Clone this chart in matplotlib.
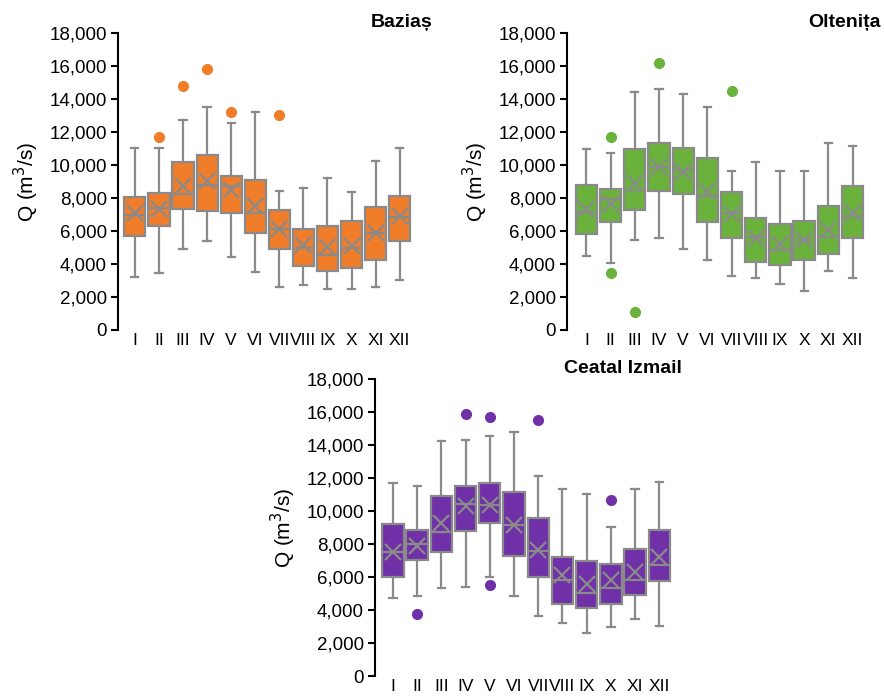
import matplotlib.pyplot as plt

months = ['I', 'II', 'III', 'IV', 'V', 'VI', 'VII', 'VIII', 'IX', 'X', 'XI', 'XII']

# Baziaș: lower whisker, Q1, median, Q3, upper whisker, mean, outliers
baz_low = [3230, 3430, 4900, 5400, 4400, 3500, 2600, 2700, 2460, 2500, 2580, 3030]
baz_q1 = [5700, 6300, 7300, 7230, 7100, 5900, 4900, 3880, 3580, 3780, 4240, 5410]
baz_med = [6970, 7370, 8220, 8800, 8700, 7070, 6100, 4950, 4550, 4950, 5860, 6870]
baz_q3 = [8040, 8280, 10160, 10600, 9350, 9070, 7270, 6140, 6320, 6630, 7470, 8140]
baz_high = [11000, 11000, 12700, 13500, 12570, 13200, 8420, 8600, 9230, 8380, 10260, 11000]
baz_mean = [7070, 7300, 8700, 9000, 8500, 7500, 6100, 5150, 5000, 5100, 5900, 6900]
baz_out = [[], [11700], [14770], [15800], [13200], [], [13000], [], [], [], [], []]

# Oltenița
olt_low = [4490, 4050, 5430, 5570, 4900, 4250, 3280, 3120, 2790, 2370, 3580, 3120]
olt_q1 = [5790, 6560, 7250, 8400, 8260, 6560, 5590, 4110, 3910, 4250, 4600, 5590]
olt_med = [7160, 7930, 8500, 9880, 9720, 8100, 7090, 5630, 4860, 5430, 5630, 6880]
olt_q3 = [8770, 8560, 10950, 11300, 11000, 10390, 8360, 6780, 6440, 6620, 7490, 8700]
olt_high = [10970, 10730, 14430, 14600, 14300, 13500, 9640, 10180, 9620, 9620, 11300, 11130]
olt_mean = [7300, 7650, 8900, 9900, 9600, 8400, 7000, 5600, 5200, 5450, 6070, 7080]
olt_out = [[], [11720, 3420], [1070], [16200], [], [], [14500], [], [], [], [], []]

# Ceatal Izmail
cea_low = [4700, 4880, 5340, 5400, 6000, 4880, 3660, 3200, 2630, 3000, 3480, 3040]
cea_q1 = [6000, 7040, 7530, 8800, 9300, 7300, 6030, 4370, 4110, 4370, 4920, 5770]
cea_med = [7490, 8000, 8700, 10450, 10380, 9170, 7570, 5830, 5060, 5360, 5830, 6740]
cea_q3 = [9200, 8830, 10930, 11500, 11700, 11150, 9550, 7200, 6980, 6800, 7690, 8870]
cea_high = [11700, 11500, 14250, 14330, 14530, 14800, 12150, 11340, 11050, 9030, 11340, 11760]
cea_mean = [7500, 7900, 9270, 10280, 10380, 9170, 7650, 6130, 5570, 5830, 6330, 7190]
cea_out = [[], [3750], [], [15900], [15700, 5530], [], [15500], [], [], [10650], [], []]

plt.rcParams['font.family'] = ['Liberation Sans', 'DejaVu Sans']

fig = plt.figure(figsize=(8.84, 6.96), dpi=100)

panels = [
    ('Baziaș', '#F07D2A', [0.1335, 0.526, 0.335, 0.4267], -0.7,
     baz_low, baz_q1, baz_med, baz_q3, baz_high, baz_mean, baz_out, (0.489, 0.968)),
    ('Oltenița', '#6AB23C', [0.6414, 0.526, 0.3367, 0.4267], -0.8,
     olt_low, olt_q1, olt_med, olt_q3, olt_high, olt_mean, olt_out, (0.996, 0.968)),
    ('Ceatal Izmail', '#7030A8', [0.4242, 0.0287, 0.3370, 0.4267], -0.74,
     cea_low, cea_q1, cea_med, cea_q3, cea_high, cea_mean, cea_out, (0.771, 0.471)),
]

grey = '#8a8a8a'

for name, color, rect, x0, lo, q1, med, q3, hi, mean, out, tpos in panels:
    ax = fig.add_axes(rect)
    stats = []
    for i in range(12):
        stats.append({'whislo': lo[i], 'q1': q1[i], 'med': med[i], 'q3': q3[i],
                      'whishi': hi[i], 'mean': mean[i], 'fliers': out[i]})
    ax.bxp(stats, positions=range(12), widths=0.88, patch_artist=True,
           showmeans=True, showcaps=True,
           boxprops=dict(facecolor=color, edgecolor=grey, linewidth=1.6),
           medianprops=dict(color=grey, linewidth=1.6),
           whiskerprops=dict(color=grey, linewidth=1.6),
           capprops=dict(color=grey, linewidth=1.6),
           capwidths=0.3,
           meanprops=dict(marker='x', markeredgecolor=grey, markersize=12,
                          markeredgewidth=1.6),
           flierprops=dict(marker='o', markerfacecolor=color, markeredgecolor=color,
                           markersize=7))
    ax.set_xlim(x0, x0 + 12.3)
    ax.set_ylim(0, 18000)
    ax.set_yticks(range(0, 18001, 2000))
    ax.set_yticklabels([f'{v:,}' for v in range(0, 18001, 2000)])
    ax.set_xticks(range(12))
    ax.set_xticklabels(months)
    ax.tick_params(axis='x', length=0, labelsize=12.5, pad=2)
    ax.tick_params(axis='y', length=5, width=1.5, labelsize=13.5, pad=3)
    for s in ['top', 'right', 'bottom']:
        ax.spines[s].set_visible(False)
    ax.spines['left'].set_linewidth(1.5)
    ax.set_ylabel('Q (m$^3$/s)', fontsize=15, labelpad=6)
    fig.text(tpos[0], tpos[1], name, ha='right', va='center',
             fontsize=14, fontweight='bold')

fig.savefig('out.png', dpi=100)
